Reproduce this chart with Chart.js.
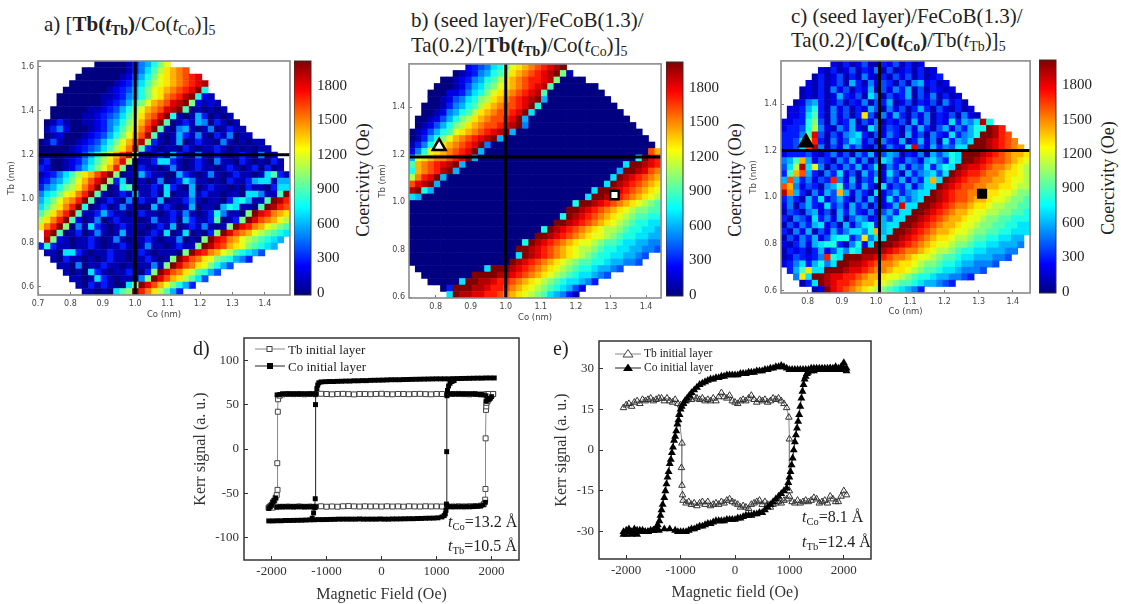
<!DOCTYPE html>
<html><head><meta charset="utf-8">
<script src="https://cdn.jsdelivr.net/npm/chart.js@4"></script>
<style>
html,body{margin:0;padding:0;background:#fff;width:1121px;height:604px;overflow:hidden}
canvas{position:absolute;filter:blur(.45px)}
canvas.heat{filter:blur(.65px)}
.t{position:absolute;font-family:"Liberation Serif",serif;color:#222;white-space:nowrap;line-height:1}
.t sub{font-size:66%;line-height:0;vertical-align:-0.28em}
.rot{transform:translate(-50%,-50%) rotate(-90deg)}
.leg{display:flex;align-items:center}
</style></head><body>
<div class="t" style="left:44px;top:14px;font-size:21px">a) [<b>Tb(<i>t</i><sub>Tb</sub>)</b>/Co(<i>t</i><sub>Co</sub>)]<sub>5</sub></div>
<div class="t" style="left:411px;top:10px;font-size:21px">b) (seed layer)/FeCoB(1.3)/</div>
<div class="t" style="left:411px;top:35px;font-size:21px">Ta(0.2)/[<b>Tb(<i>t</i><sub>Tb</sub>)</b>/Co(<i>t</i><sub>Co</sub>)]<sub>5</sub></div>
<div class="t" style="left:791px;top:6px;font-size:21px">c) (seed layer)/FeCoB(1.3)/</div>
<div class="t" style="left:791px;top:30px;font-size:21px">Ta(0.2)/[<b>Co(<i>t</i><sub>Co</sub>)</b>/Tb(<i>t</i><sub>Tb</sub>)]<sub>5</sub></div>
<div class="t rot" style="left:363px;top:180px;font-size:18px">Coercivity (Oe)</div>
<div class="t rot" style="left:735px;top:180px;font-size:18px">Coercivity (Oe)</div>
<div class="t rot" style="left:1108px;top:178px;font-size:18px">Coercivity (Oe)</div>
<div class="t" style="left:193px;top:338px;font-size:20px;z-index:3">d)</div>
<div class="t" style="left:553px;top:338px;font-size:20px;z-index:3">e)</div>
<div class="t" style="left:448px;top:514px;font-size:16px;z-index:3"><i>t</i><sub>Co</sub>=13.2 Å</div>
<div class="t" style="left:448px;top:538px;font-size:16px;z-index:3"><i>t</i><sub>Tb</sub>=10.5 Å</div>
<div class="t" style="left:802px;top:509px;font-size:16px;z-index:3"><i>t</i><sub>Co</sub>=8.1 Å</div>
<div class="t" style="left:802px;top:534px;font-size:16px;z-index:3"><i>t</i><sub>Tb</sub>=12.4 Å</div>
<div class="t leg" style="left:255px;top:342px;font-size:13px;z-index:3"><svg width="30" height="14" style="margin-right:3px"><line x1="0" y1="7" x2="30" y2="7" stroke="#888"/><rect x="12" y="4.5" width="5" height="5" fill="#fff" stroke="#444"/></svg>Tb initial layer</div>
<div class="t leg" style="left:255px;top:359px;font-size:13px;z-index:3"><svg width="30" height="14" style="margin-right:3px"><line x1="0" y1="7" x2="30" y2="7" stroke="#222"/><rect x="12" y="4" width="6" height="6" fill="#000"/></svg>Co initial layer</div>
<div class="t leg" style="left:615px;top:347px;font-size:11.5px;z-index:3"><svg width="26" height="14" style="margin-right:3px"><line x1="0" y1="7" x2="26" y2="7" stroke="#888"/><path d="M13 2.5L18 10H8Z" fill="#fff" stroke="#444"/></svg>Tb initial layer</div>
<div class="t leg" style="left:615px;top:361px;font-size:11.5px;z-index:3"><svg width="26" height="14" style="margin-right:3px"><line x1="0" y1="7" x2="26" y2="7" stroke="#222"/><path d="M13 2.5L18 10H8Z" fill="#000"/></svg>Co initial layer</div>
<script>
// Coercivity maps: each character is a cell in units of 100 Oe (0-9, a=1000 ... k=2000); "." = no data; ~N; = N zero cells.
const gridA=[
".........0000013568ac",".......000000013579bdefg","......000000012468acdefghi",".....0000000123579bcdefghij","....0000000123468acdefghik8","...00000001123568acdfghjk821","...0000000123468acefgijka2121","..0000001123468acefgijk9010101","..0000011234579bdfgik8101630101",
".0131001123568acegik901316503101",".1352000123579bdfhk91056101501311",".012000123468acegj9101631510315011","014100123468acegja310160131105101011","000001234579bdfi931011031011310101011","0000112468acegia1013063105103101310501","1300123579bdfib011377310131051103101031","320012468aceha0131101510131101310130301",
"123579bdegika011631100631015101311017931","23568acegika3701101501375110103113677166","3568abdfhka01890113173106013110103110377","578acdfhk91013161130701161311"+"0110775119k","68acefhk90131051311601135101103786119kjh","79bdfhk8"+"0130151100"+"6131016011"+"0687110"+"9kjhg","9bdfhk9"+"1136311013"+"1101315101"+"385110"+"akihfed","bdfhk92"+"0150131110"+"1511306311"+"39013"+"akigfecb","dfhka"+"0517310131"+"1101316013"+"15101"+"akihfecba9",
".ik9"+"0130151016"+"1101317017"+"0103"+"akigfecba987",".ja2"+"1011310151"+"0113101150"+"10"+"akihfecba9876","383"+"1101131011"+"3101511013"+"11"+"akjhgedca9876",".1107731011"+"3110131011"+"10"+"akihfecb98764","..1031101013"+"110113101"+"akigfdca98653","...1105011311"+"0101151"+"akigfdca864","....1010731011"+"3103"+"akigfdb9864",".....110173101105"+"akigedb974","......103131007"+"akigeca863",".......1101079"+"akhfdb963"];
const gridB=[
".........234578acdefghijk",".......01235689bdefghijka1",".....001235689bdefghhija0000","....000124679acdefghij9~7;","...000223578acdefghij9~9;","...00124578abdefghijk6~10;","..000135689bdefgghik8~12;","..00125689bdefgghik7~14;",".0012468abdefgghik6~16;",".012468abdefgghijk5~17;","0124689cdefghijk6~20;","01368acefghijk6~23;","1358bdefghik5~26;","258cdefghik6~26;ge","6cdeffghik6~25;8kih","9efghijk6~25;7kkjih","8efghjk6~25;6kkjigf","bfhik6~26;7kjihgfe","gijk6~26;7kjihgfed","jk86~25;7kkjihgfedc","76~26;7kkjihgfedcb",
"~26;8kkjihgfedcba9","~25;kkjihgfedcbaa99","~24;8kjihgfedcba9988","~23;kkjihgfedcba98877","~21;8kjihgfedcbba988776","~20;kkjihgfedccba9887766","~18;8kjihgfedccba998776655","~17;kkjihgfedcbba9887766554","~17;7kjihgfedcba988776654","~16;kjihgfedcba9988766554",".~11;7kkkjihgfedcba98876654","..~8;kkkkjjihgfedcba9877654","...~5;7kkjjihhgfedcba9877653",".....03kkkjjihhgfedcba987642","......7kjjiihhgfedcba976531"];
const gridC=[
"........213124113241312","......2131241325141231312",".....131241315213142413123","....21312416315243141562312","...1213152413261425361413212","...12131263241751423614251312","..1256312413251436124132415231",".223683152413264152413631421312",".2237931524"+"13d4152631"+"4251324152"+"1",
"22338a4152"+"3614251324"+"1625132736"+"57j8","23348b5215"+"3621752431"+"5263146253"+"68"+"8kjh","33359i4142"+"5673142531"+"6241532735"+"6"+"8kkjhg","3347ch3152"+"4762415326"+"1362517365"+"7kkjihgf","3347gj5142"+"6352142532"+"7i4263547"+"7kkkjihgfe","2333421352"+"4153624651"+"32516468"+"7kkkjihgfeed","569e624315"+"3625147632"+"54267538"+"7kkjihggfedc","47bj7c5142"+"5362471536"+"2547368"+"7kjiihgffedcb","39eg631537"+"2416352741"+"635674"+"7kjihhgffeddcb","6g635243h5"+"2614372536"+"2537e"+"7kjihggffeedccb","ge52431569"+"3526317243"+"6257"+"7kjihggffeeddcbb","jf6315264e"+"6253172463"+"567"+"7kjihggffeddccbaa","3531637246"+"3152632736"+"46"+"7kkjihggfeedccbaa9","2514632735"+"263514236i"+"7"+"7kkjihgffeddcbbaa99","1431562416"+"3632524637"+"7kkjihgfeedccbbaa998","3154273526"+"146523647"+"7kkjihgfeedccbaa99888","1425367241"+"62578367"+"7kkjihgfeedccbaa998877","3152614263"+"57758e6"+"7kkjihgfeedccbaa9988777","1425362478"+"835d57"+"7kkjihgfeddcbba99887766","21352678831582"+"7kkkjihgfedccbaa988776665","132313624758"+"7kkkjihgffedcbba9887766655","1243235h8"+"7kkkjjihgffedccba99877666554","23573685"+"7kkjjihgffeddcbaa9887665554",".369d7"+"7kkkjiihgffeddcba9987765554","..5d"+"7kkjiihhgfeedccba9887665543","...13"+"7kjihhgfeedcba998766543",".....12"+"kihgfedcba987653"];

const coTicksA=[0.7,0.8,0.9,1.0,1.1,1.2,1.3,1.4];
const tbTicksA=[0.6,0.8,1.0,1.2,1.4,1.6];
const coTicksBC=[0.8,0.9,1.0,1.1,1.2,1.3,1.4];
const tbTicksBC=[0.6,0.8,1.0,1.2,1.4];
const coercivityTicks=[0,300,600,900,1200,1500,1800];
const fieldTicks=[-2000,-1000,0,1000,2000];
const kerrTicksD=[-100,-50,0,50,100];
const kerrTicksE=[-30,-15,0,15,30];
const triB=[[0.81,1.235]], sqB=[[1.31,1.03]], triC=[[0.795,1.235]], sqC=[[1.31,1.015]];

// Hysteresis loops, [field Oe, Kerr a.u.]
const tbUpperD=[[-2050,-66],[-2025,-64.5],[-2000,-63],[-1975,-60],[-1950,-58],[-1925,-55],[-1905,-52],[-1890,-46],[-1895,-16],[-1885,42],[-1880,56],[-1850,60],[-1800,61.5],[-1700,62],[-1600,61.8],[-1500,62],[-1400,61.6],[-1300,62],[-1200,61.7],[-1100,62.2],[-1000,61.9],[-900,61.6],[-800,62],[-700,62.1],[-600,61.8],[-500,61.5],[-400,62],[-300,61.9],[-200,61.7],[-100,62],[0,62.2],[100,61.8],[200,61.6],[300,62],[400,61.9],[500,61.7],[600,62],[700,62.1],[800,61.8],[900,61.6],[1000,62],[1100,61.9],[1200,61.7],[1300,62],[1400,62.1],[1500,61.8],[1600,61.6],[1700,61.9],[1800,61.5],[1900,61.8],[1950,62],[2030,62]];
const tbLowerD=[[-2050,-66],[-1975,-66],[-1900,-65],[-1800,-65],[-1700,-64.8],[-1600,-65],[-1500,-64.6],[-1400,-65],[-1300,-64.8],[-1200,-65],[-1100,-64.5],[-1000,-65],[-900,-64.7],[-800,-65],[-700,-64.5],[-600,-64.3],[-500,-64.6],[-400,-64.8],[-300,-64.5],[-200,-64.7],[-100,-64.6],[0,-64.8],[100,-64.5],[200,-64.8],[300,-64.6],[400,-64.9],[500,-64.5],[600,-64.7],[700,-64.8],[800,-64.5],[900,-64.7],[1000,-64.6],[1100,-64.8],[1200,-64.5],[1300,-64.7],[1400,-64.5],[1500,-64.6],[1600,-64.4],[1700,-64.2],[1800,-63.8],[1860,-62],[1885,-57],[1890,-45],[1893,12],[1900,44],[1905,48],[1910,52],[1930,54],[1950,56],[1975,58],[2000,60],[2030,62]];
const coUpperD=[[-1260,-78],[-1235,-72],[-1215,-66],[-1205,-56],[-1200,50],[-1195,62],[-1175,68],[-1160,72],[-1140,74.5],[-1100,75.5],[-1025,75.8],[-950,76],[-875,76],[-800,76.2],[-725,76.3],[-650,76.5],[-575,76.5],[-500,76.8],[-425,76.8],[-350,77],[-275,77],[-200,77.3],[-125,77.4],[-50,77.5],[25,77.6],[100,77.8],[175,78],[250,78],[325,78],[400,78.2],[475,78.3],[550,78.4],[625,78.5],[700,78.6],[775,78.7],[850,78.8],[925,78.9],[1000,79],[1075,79],[1150,79],[1225,79],[1300,79.2],[1375,79.3],[1450,79.4],[1525,79.5],[1600,79.6],[1675,79.7],[1750,79.8],[1825,79.8],[1900,80],[1975,80],[2050,80]];
const coLowerD=[[-2050,-81],[-1975,-81],[-1900,-80.8],[-1825,-80.8],[-1750,-80.5],[-1675,-80.5],[-1600,-80.4],[-1525,-80.3],[-1450,-80.2],[-1375,-80],[-1300,-79.8],[-1225,-79.7],[-1150,-79.5],[-1075,-79.5],[-1000,-79.4],[-925,-79.3],[-850,-79.2],[-775,-79],[-700,-79],[-625,-79],[-550,-79],[-475,-79],[-400,-78.8],[-325,-79],[-250,-79],[-175,-79],[-100,-79],[-25,-78.8],[50,-79],[125,-79],[200,-78.8],[275,-78.8],[350,-78.7],[425,-78.6],[500,-78.5],[575,-78.5],[650,-78.3],[725,-78.2],[800,-78],[875,-77.9],[950,-77.8],[1025,-77.5],[1100,-76.5],[1140,-75],[1160,-73],[1172,-69],[1180,-62],[1185,-3],[1190,60],[1200,66],[1220,71],[1245,74],[1280,76],[1320,77]];
const coShoulderD=[[-1900,61],[-1850,61.5],[-1800,62],[-1750,62],[-1700,62],[-1650,62],[-1600,62],[-1550,62],[-1500,62],[-1450,62],[-1400,62],[-1350,62],[-1300,62],[-1250,62],[-1200,62],[1200,62],[1250,62],[1300,62],[1350,62],[1400,62],[1450,62],[1500,62],[1550,62],[1600,62],[1650,62],[1700,62],[1750,61.5],[1800,61.5],[1850,61],[1900,60],[-1900,-65.5],[-1850,-65],[-1800,-65],[-1750,-65],[-1700,-65],[-1650,-65],[-1600,-65],[-1550,-65],[-1500,-65],[-1450,-65],[-1400,-65],[-1350,-65],[-1300,-65],[-1250,-65],[-1200,-65],[1200,-65],[1250,-65],[1300,-65],[1350,-65],[1400,-65],[1450,-65],[1500,-65],[1550,-65],[1600,-65],[1650,-65],[1700,-64.5],[1750,-64.5],[1800,-64],[1850,-63],[1890,-60],[1900,54],[1925,55],[1950,56],[1975,57],[2000,59],[-2050,-67],[-2025,-65],[-2000,-63],[-1975,-60],[-1950,-58],[-1925,-55]];

const tbTopE=[[-2050,15.5],[-2000,16.5],[-1950,17],[-1900,16],[-1850,17.5],[-1800,18],[-1750,17],[-1700,18.5],[-1650,18],[-1600,18.5],[-1550,19],[-1500,18],[-1450,18.5],[-1400,19],[-1350,19],[-1300,18],[-1250,19],[-1200,18],[-1150,17.5],[-1100,18.5],[-1050,17],[-1000,16.5],[-950,17],[-900,18],[-850,19],[-800,18.5],[-750,19.5],[-700,19],[-650,18.5],[-600,19],[-550,18],[-500,18.5],[-450,18],[-400,19],[-350,18],[-300,19.5],[-250,21],[-200,19.5],[-150,19],[-100,20],[-50,18],[0,17.5],[50,17],[100,18],[150,18.5],[200,18],[250,19],[300,20],[350,18.5],[400,17.5],[450,18.5],[500,18],[550,18.5],[600,17.5],[650,18],[700,19],[750,18.5],[800,19],[850,18],[900,17],[950,15.5],[990,12],[1000,4],[1000,-15]];
const tbBottomE=[[-1030,13],[-975,2.5],[-985,-6.5],[-975,-13],[-965,-16.5],[-955,-18.5],[-900,-19.5],[-850,-19],[-800,-20],[-750,-19.5],[-700,-20.5],[-650,-19.5],[-600,-19],[-550,-20],[-500,-19],[-450,-20.5],[-400,-20],[-350,-19.5],[-300,-20],[-250,-19],[-200,-19.5],[-150,-18.5],[-100,-18],[-50,-19],[0,-19.5],[50,-20],[100,-21],[150,-20.5],[200,-21],[250,-21.5],[300,-20],[350,-19.5],[400,-19],[450,-18.5],[500,-20],[550,-19],[600,-20],[650,-21],[700,-20],[750,-19.5],[800,-19],[850,-19.5],[900,-18.5],[950,-18],[1000,-17],[1050,-19],[1100,-19.5],[1150,-18.5],[1200,-19.5],[1250,-19],[1300,-18.5],[1350,-19],[1400,-18.5],[1450,-17.5],[1500,-18],[1550,-19.5],[1600,-19],[1650,-18.5],[1700,-19.5],[1750,-17],[1800,-18],[1850,-19],[1900,-19],[1950,-17],[2000,-15],[2050,-16.5]];
const coUpperE=[[-2050,-31],[-2000,-31],[-1950,-30],[-1900,-31],[-1850,-30.5],[-1800,-31],[-1750,-30],[-1700,-30],[-1650,-30],[-1600,-30],[-1550,-29.5],[-1500,-29.5],[-1450,-28.5],[-1420,-27.5],[-1390,-26],[-1370,-24],[-1350,-22],[-1330,-20],[-1300,-17.5],[-1280,-15],[-1260,-12.5],[-1240,-10],[-1220,-8],[-1200,-5],[-1180,-3.5],[-1160,-1],[-1140,1],[-1120,3.5],[-1100,5],[-1080,7],[-1060,9.5],[-1040,11],[-1020,13],[-1000,15],[-980,16],[-950,17],[-920,18],[-880,19],[-840,20],[-800,21],[-750,22],[-700,23],[-650,24],[-600,24.5],[-550,25],[-500,25.5],[-450,26],[-400,26],[-350,26.5],[-300,26.5],[-250,27],[-200,27],[-150,27.5],[-100,27.5],[-50,27.5],[0,27.5],[50,27.5],[100,28],[150,28],[200,28],[250,28.5],[300,28.5],[350,28.5],[400,29],[450,29],[500,29],[550,29.5],[600,29.5],[650,30],[700,30],[750,30.5],[800,30.5],[850,31],[900,30.5],[950,30],[1000,29.5],[1050,29.5],[1100,29.5],[1150,29.5],[1200,29.5],[1250,29.5],[1300,29.5],[1350,29.5],[1400,30],[1450,30],[1500,30],[1550,30],[1600,30],[1650,29.5],[1700,30],[1750,30],[1800,30],[1850,30.5],[1900,30],[1950,30.5],[2000,32],[2050,30]];
const coLowerE=[[-2050,-30],[-2000,-29.5],[-1950,-29],[-1900,-30],[-1850,-29],[-1800,-29.5],[-1750,-29.5],[-1700,-29.5],[-1650,-30],[-1600,-30],[-1500,-29.5],[-1400,-29.5],[-1300,-29],[-1200,-29],[-1100,-29.5],[-1050,-30],[-1000,-30],[-950,-30],[-900,-30],[-850,-29.5],[-800,-29],[-750,-29],[-700,-28.5],[-650,-28],[-600,-28],[-550,-27.5],[-500,-27],[-450,-27],[-400,-26.5],[-350,-26],[-300,-26],[-250,-26],[-200,-26],[-150,-25.5],[-100,-25.5],[-50,-25.5],[0,-25.5],[50,-25],[100,-25],[150,-24.5],[200,-24],[250,-24],[300,-24],[350,-23.5],[400,-23.5],[450,-23],[500,-23],[550,-22],[600,-21],[650,-20],[700,-19],[750,-18],[800,-17],[850,-16],[900,-15],[950,-14],[980,-12],[1000,-10],[1020,-8],[1040,-5.5],[1060,-3],[1080,0],[1100,3],[1120,5.5],[1140,8],[1160,10.5],[1180,13],[1200,16],[1220,19],[1240,21.5],[1260,24],[1280,26],[1300,27],[1320,28],[1340,28.5],[1400,29],[1450,29],[1500,29.5],[1550,29.5],[1600,29.5],[1650,30],[1700,29.5],[1750,30],[1800,29.5],[1850,30],[1900,29.5],[1950,29.5],[2000,30],[2050,29]];

const jet=v=>{const t=Math.min(1,Math.max(0,v/2000)),c=x=>Math.round(255*Math.min(1,Math.max(0,1.5-Math.abs(4*t-x))));return `rgb(${c(3)},${c(2)},${c(1)})`};
const CODES="0123456789abcdefghijk";
const pts=a=>a.map(p=>({x:p[0],y:p[1]}));
const frame={id:'frame',afterDatasetsDraw(c,a,o){const r=c.chartArea,g=c.ctx;g.save();g.strokeStyle=o.color;g.lineWidth=o.width;g.strokeRect(r.left,r.top,r.right-r.left,r.bottom-r.top);g.restore();}};
Chart.register(frame);
function canvasFor(left,top,w,h,L,T,R,B,cls){const c=document.createElement('canvas');c.width=w+L+R;c.height=h+T+B;c.style.left=(left-L)+'px';c.style.top=(top-T)+'px';c.style.width=(w+L+R)+'px';c.style.height=(h+T+B)+'px';if(cls)c.className=cls;document.body.appendChild(c);return c;}
const tickSet=arr=>s=>{s.ticks=arr.map(v=>({value:v}));};
const noPad=s=>{s.paddingTop=s.paddingBottom=s.paddingLeft=s.paddingRight=0;};
const heatFont={family:'"DejaVu Sans"',size:8};

function heatmap(p){
  const L=40,T=8,R=8,B=p.B,cols=40,rows=p.grid.length;
  const dx=(p.xr[1]-p.xr[0])/cols,dy=(p.yr[1]-p.yr[0])/rows,cells=[];
  p.grid.forEach((row,r)=>{[...row.replace(/~(\d+);/g,(m,n)=>'0'.repeat(+n))].forEach((ch,c)=>{const i=CODES.indexOf(ch);if(i>=0)cells.push({x:p.xr[0]+dx*(c+.5),y:p.yr[1]-dy*(r+.5),v:i*100});});});
  const side=Math.max(p.w/cols,p.h/rows)+.5;
  const ds=[];
  if(p.tri)ds.push({data:pts(p.tri),pointStyle:'triangle',pointRadius:7.5,pointBackgroundColor:p.triFill,pointBorderColor:'#000',pointBorderWidth:2.4,showLine:false});
  if(p.sq)ds.push({data:pts(p.sq),pointStyle:'rect',pointRadius:p.sqR,pointBackgroundColor:p.sqFill,pointBorderColor:'#000',pointBorderWidth:2.4,showLine:false});
  ds.push({data:[{x:p.xr[0],y:p.cy},{x:p.xr[1],y:p.cy}],showLine:true,borderColor:'#000',borderWidth:3,pointRadius:0});
  ds.push({data:[{x:p.cx,y:p.yr[0]},{x:p.cx,y:p.yr[1]}],showLine:true,borderColor:'#000',borderWidth:3,pointRadius:0});
  ds.push({data:cells,pointStyle:'rect',pointRadius:side/Math.SQRT2,pointBorderWidth:0,pointBackgroundColor:c=>jet(c.raw.v),showLine:false});
  new Chart(canvasFor(p.l,p.t,p.w,p.h,L,T,R,B,'heat'),{type:'scatter',data:{datasets:ds},options:{responsive:false,animation:false,events:[],layout:{padding:{top:T,right:R}},
    plugins:{legend:{display:false},tooltip:{enabled:false},frame:{color:'#8a8a8a',width:1.6}},
    scales:{x:{type:'linear',min:p.xr[0],max:p.xr[1],afterFit:s=>{s.height=B;noPad(s)},afterBuildTicks:tickSet(p.xt),grid:{drawOnChartArea:false,tickLength:-3,color:'#777'},border:{display:false},ticks:{font:heatFont,color:'#444',padding:7,maxRotation:0,autoSkip:false,callback:v=>v.toFixed(1)},title:{display:true,text:'Co (nm)',font:{family:'"DejaVu Sans"',size:8.5},color:'#444',padding:{top:0,bottom:p.xtp}}},
    y:{type:'linear',min:p.yr[0],max:p.yr[1],afterFit:s=>{s.width=L;noPad(s)},afterBuildTicks:tickSet(p.yt),grid:{drawOnChartArea:false,tickLength:-3,color:'#777'},border:{display:false},ticks:{font:heatFont,color:'#444',padding:7,autoSkip:false,callback:v=>v.toFixed(1)},title:{display:true,text:'Tb (nm)',font:{family:'"DejaVu Sans"',size:8.5},color:'#444',padding:{top:p.ytp,bottom:0}}}}}});
}
function colorbar(l,t,w,h,min,max){
  const R=44;
  new Chart(canvasFor(l,t,w,h,0,6,R,6),{type:'bar',data:{labels:['Coercivity'],datasets:[{data:[[min,max]],barPercentage:1,categoryPercentage:1,backgroundColor:c=>{const a=c.chart.chartArea;if(!a)return '#000';const g=c.chart.ctx.createLinearGradient(0,a.bottom,0,a.top);for(let i=0;i<=40;i++)g.addColorStop(i/40,jet(i*50));return g;}}]},
   options:{responsive:false,animation:false,events:[],layout:{padding:{top:6,bottom:6}},plugins:{legend:{display:false},tooltip:{enabled:false},frame:{color:'#333',width:1}},
   scales:{x:{display:false},y:{position:'right',min,max,afterFit:s=>{s.width=R;noPad(s)},afterBuildTicks:tickSet(coercivityTicks),grid:{drawOnChartArea:false,tickLength:-3,color:'#222'},border:{display:false},ticks:{font:{family:'"Liberation Serif"',size:15},color:'#222',padding:9,autoSkip:false,callback:v=>String(v)}}}}});
}
function loop(p){
  const L=p.L,T=6,R=6,B=44;
  new Chart(canvasFor(p.l,p.t,p.w,p.h,L,T,R,B),{type:'scatter',data:{datasets:p.sets},options:{responsive:false,animation:false,events:[],layout:{padding:{top:T,right:R}},
   plugins:{legend:{display:false},tooltip:{enabled:false},frame:{color:'#333',width:1.5}},
   scales:{x:{type:'linear',min:-2500,max:2500,afterFit:s=>{s.height=B;noPad(s)},afterBuildTicks:tickSet(fieldTicks),grid:{drawOnChartArea:false,tickLength:-4,color:'#333'},border:{display:false},ticks:{font:{family:'"Liberation Serif"',size:13},color:'#333',padding:8,maxRotation:0,autoSkip:false,callback:v=>String(v)},title:{display:true,text:p.xtitle,font:{family:'"Liberation Serif"',size:16},color:'#333',padding:{top:0,bottom:p.xtp}}},
   y:{type:'linear',min:p.yr[0],max:p.yr[1],afterFit:s=>{s.width=L;noPad(s)},afterBuildTicks:tickSet(p.yt),grid:{drawOnChartArea:false,tickLength:-4,color:'#333'},border:{display:false},ticks:{font:{family:'"Liberation Serif"',size:13},color:'#333',padding:9,autoSkip:false,callback:v=>String(v)},title:{display:true,text:'Kerr signal (a. u.)',font:{family:'"Liberation Serif"',size:16},color:'#333',padding:{top:p.ytp,bottom:0}}}}}});
}
const line=(data,label,style,r,fill,border,col,bw)=>({label,data:pts(data),showLine:true,borderColor:col,borderWidth:1,pointStyle:style,pointRadius:r,pointBackgroundColor:fill,pointBorderColor:border,pointBorderWidth:bw});

heatmap({grid:gridA,l:38,t:61,w:252,h:234,xr:[0.7,1.4775],yr:[0.562,1.626],xt:coTicksA,yt:tbTicksA,cx:1.0,cy:1.2,B:28,xtp:3,ytp:9});
heatmap({grid:gridB,l:409,t:62,w:254,h:236,xr:[0.724,1.443],yr:[0.596,1.582],xt:coTicksBC,yt:tbTicksBC,cx:1.0,cy:1.19,B:28,xtp:3,ytp:9,tri:triB,triFill:'#fff',sq:sqB,sqFill:'#fff',sqR:6});
heatmap({grid:gridC,l:781,t:59,w:251,h:234,xr:[0.722,1.4506],yr:[0.589,1.585],xt:coTicksBC,yt:tbTicksBC,cx:1.01,cy:1.2,B:28,xtp:4,ytp:8,tri:triC,triFill:'#000',sq:sqC,sqFill:'#000',sqR:5.5});
colorbar(294,61,17,234,-17,2017);
colorbar(666,62,17,234,-10,2025);
colorbar(1039,60,17,233,-10,2020);
loop({l:244,t:338,w:275,h:222,L:60,yr:[-125,125],yt:kerrTicksD,xtitle:'Magnetic Field (Oe)',xtp:0,ytp:7,sets:[
 {label:'Co initial layer',data:pts(coShoulderD),showLine:false,pointStyle:'rect',pointRadius:3.4,pointBackgroundColor:'#000',pointBorderColor:'#000',pointBorderWidth:0},
 line(coUpperD,'Co initial layer','rect',3.5,'#000','#000','#222',0),
 line(coLowerD,'Co initial layer','rect',3.5,'#000','#000','#222',0),
 line(tbUpperD,'Tb initial layer','rect',3.5,'#fff','#444','#888',1),
 line(tbLowerD,'Tb initial layer','rect',3.5,'#fff','#444','#888',1)]});
loop({l:599,t:341,w:272,h:218,L:60,yr:[-40,40],yt:kerrTicksE,xtitle:'Magnetic field (Oe)',xtp:1,ytp:13,sets:[
 line(coUpperE,'Co initial layer','triangle',4.6,'#000','#000','#222',0),
 line(coLowerE,'Co initial layer','triangle',4.6,'#000','#000','#222',0),
 line(tbTopE,'Tb initial layer','triangle',3.8,'rgba(255,255,255,0)','#333','#888',1),
 line(tbBottomE,'Tb initial layer','triangle',3.8,'rgba(255,255,255,0)','#333','#888',1)]});
</script></body></html>
